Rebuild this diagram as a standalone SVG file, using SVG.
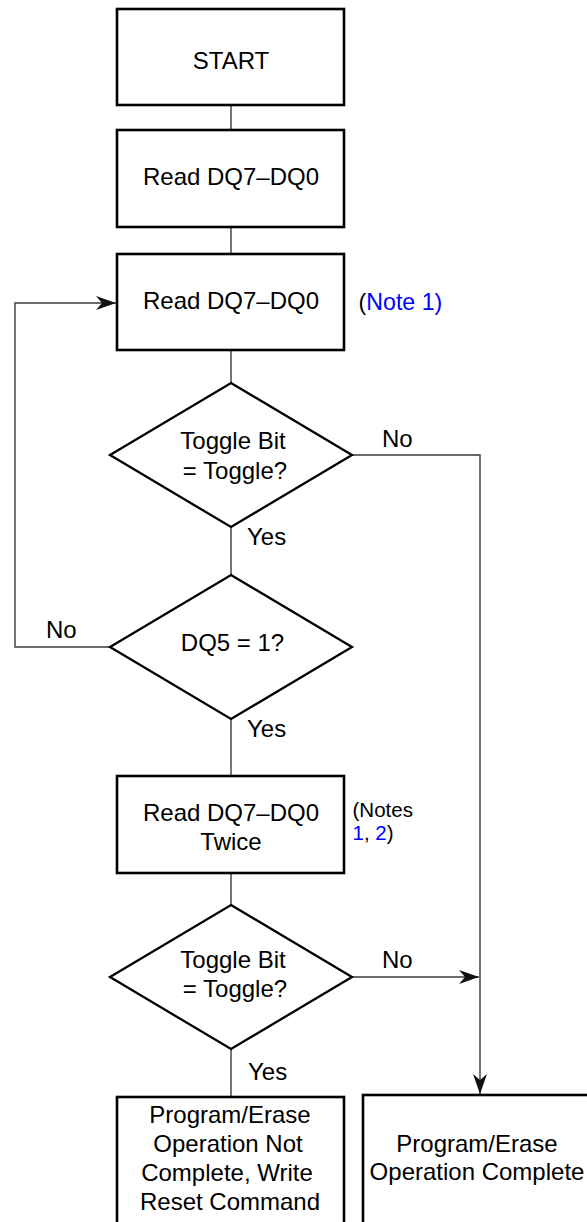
<svg xmlns="http://www.w3.org/2000/svg" width="587" height="1222" viewBox="0 0 587 1222">
<style>
.box{fill:#fff;stroke:#000;stroke-width:2.6}
.dia{fill:#fff;stroke:#000;stroke-width:2.3}
.con{fill:none;stroke:#3a3a3a;stroke-width:1.4}
text{font-family:"Liberation Sans",Arial,sans-serif;font-size:24px;fill:#000}
.c{text-anchor:middle}
.note{font-size:20.5px}
.blue{fill:#0000ff}
</style>
<defs>
<marker id="arr" markerUnits="userSpaceOnUse" viewBox="-21 -7 22 14" markerWidth="22" markerHeight="14" refX="0" refY="0" orient="auto">
<path d="M0,0 L-20,-7 L-14,0 L-20,7 Z" fill="#111"/>
</marker>
</defs>
<rect width="587" height="1222" fill="#fff"/>
<g id="connectors">
<line class="con" x1="231" y1="105" x2="231" y2="130"/>
<line class="con" x1="231" y1="227" x2="231" y2="254"/>
<line class="con" x1="231" y1="350" x2="231" y2="383"/>
<line class="con" x1="231" y1="527" x2="231" y2="575"/>
<line class="con" x1="231" y1="719" x2="231" y2="776"/>
<line class="con" x1="231" y1="873" x2="231" y2="905"/>
<line class="con" x1="231" y1="1049" x2="231" y2="1097"/>
<polyline class="con" points="110,647 15,647 15,303 116,303" marker-end="url(#arr)"/>
<polyline class="con" points="352,455 480,455 480,1094" marker-end="url(#arr)"/>
<line class="con" x1="352" y1="977" x2="479" y2="977" marker-end="url(#arr)"/>
<text x="382" y="447">No</text>
<text x="247" y="545">Yes</text>
<text x="46" y="638">No</text>
<text x="247" y="737">Yes</text>
<text x="382" y="968">No</text>
<text x="248" y="1080">Yes</text>
</g>
<g id="start">
<rect class="box" x="117" y="9" width="227" height="96"/>
<text class="c" x="231" y="69">START</text>
</g>
<g id="read1">
<rect class="box" x="117" y="130" width="227" height="97"/>
<text class="c" x="231" y="185">Read DQ7–DQ0</text>
</g>
<g id="read2">
<rect class="box" x="117" y="254" width="227" height="96"/>
<text class="c" x="231" y="309">Read DQ7–DQ0</text>
<text x="358.5" y="310" style="font-size:23.2px">(<tspan class="blue">Note 1)</tspan></text>
</g>
<g id="toggle1">
<polygon class="dia" points="231,383 352,455 231,527 110,455"/>
<text class="c" x="233" y="449">Toggle Bit</text>
<text class="c" x="235" y="479">= Toggle?</text>
</g>
<g id="dq5">
<polygon class="dia" points="231,575 352,647 231,719 110,647"/>
<text class="c" x="232.5" y="651">DQ5 = 1?</text>
</g>
<g id="readTwice">
<rect class="box" x="117" y="776" width="227" height="97"/>
<text class="c" x="231" y="821">Read DQ7–DQ0</text>
<text class="c" x="231" y="850">Twice</text>
<text class="note" x="352.5" y="817">(Notes</text>
<text class="note" x="352.5" y="840"><tspan class="blue">1</tspan>, <tspan class="blue">2</tspan>)</text>
</g>
<g id="toggle2">
<polygon class="dia" points="231,905 352,977 231,1049 110,977"/>
<text class="c" x="233" y="968">Toggle Bit</text>
<text class="c" x="235" y="997">= Toggle?</text>
</g>
<g id="notComplete">
<rect class="box" x="117" y="1097" width="227" height="140"/>
<text class="c" x="230" y="1123">Program/Erase</text>
<text class="c" x="228" y="1152">Operation Not</text>
<text class="c" x="227" y="1181">Complete, Write</text>
<text class="c" x="230" y="1210">Reset Command</text>
</g>
<g id="complete">
<rect class="box" x="363" y="1095" width="227" height="140"/>
<text class="c" x="477" y="1152">Program/Erase</text>
<text class="c" x="477" y="1180">Operation Complete</text>
</g>
</svg>
